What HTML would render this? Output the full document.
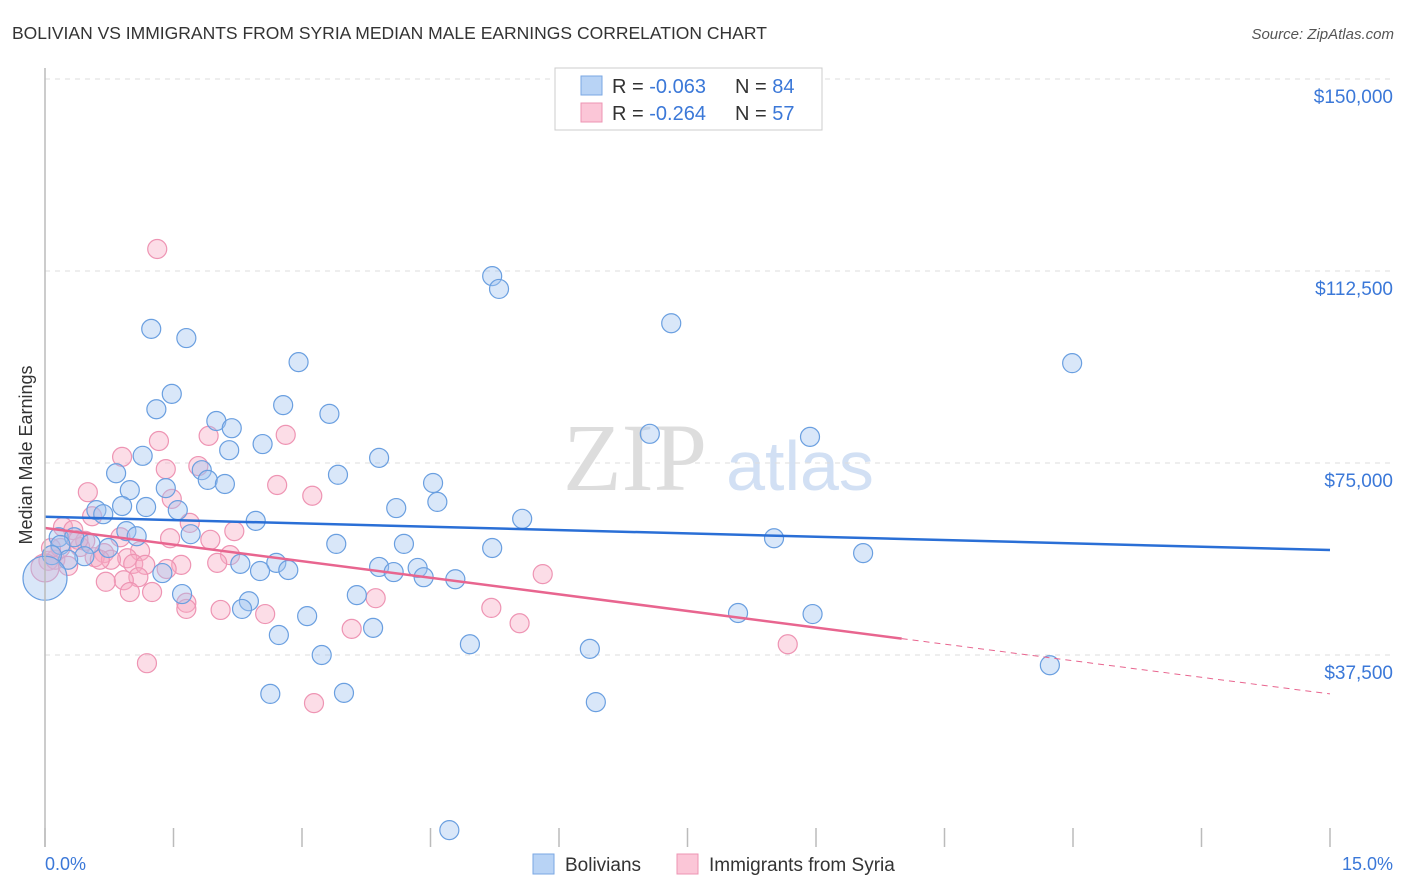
<!DOCTYPE html>
<html><head><meta charset="utf-8"><style>
body{margin:0;background:#fff;font-family:"Liberation Sans",sans-serif;}
svg{display:block}
</style></head><body>
<svg id="chart" width="1406" height="892">
<text x="12" y="39" font-size="17.5" fill="#333">BOLIVIAN VS IMMIGRANTS FROM SYRIA MEDIAN MALE EARNINGS CORRELATION CHART</text>
<text x="1394" y="39" font-size="15" fill="#555" font-style="italic" text-anchor="end">Source: ZipAtlas.com</text>
<text x="32" y="455" font-size="18" fill="#333" text-anchor="middle" transform="rotate(-90 32 455)">Median Male Earnings</text>
<g><text x="635" y="490" font-size="96" fill="#ddd" font-family="Liberation Serif,serif" text-anchor="middle">ZIP</text><text x="800" y="490" font-size="70" fill="#d2e0f4" text-anchor="middle">atlas</text></g>
<g id="grid"></g><g id="pts"></g><g id="trend"></g>
<line x1="45" y1="68" x2="45" y2="847" stroke="#bbb" stroke-width="1.5"/>
<g>
<rect x="555" y="68" width="267" height="62" fill="#fff" stroke="#ccc"/>
<rect x="581" y="76" width="21" height="19" fill="#b8d3f5" stroke="#7aa7e3"/>
<rect x="581" y="103" width="21" height="19" fill="#fbc6d7" stroke="#ee94b3"/>
<text x="612" y="93" font-size="20" fill="#333">R = <tspan fill="#3b78d8">-0.063</tspan><tspan x="735">N = </tspan><tspan fill="#3b78d8">84</tspan></text>
<text x="612" y="120" font-size="20" fill="#333">R = <tspan fill="#3b78d8">-0.264</tspan><tspan x="735">N = </tspan><tspan fill="#3b78d8">57</tspan></text>
</g>
<text x="45" y="870" font-size="18" fill="#3b78d8">0.0%</text>
<text x="1393" y="870" font-size="18" fill="#3b78d8" text-anchor="end">15.0%</text>
<g>
<rect x="533" y="854" width="21" height="20" fill="#b8d3f5" stroke="#7aa7e3"/>
<text x="565" y="871" font-size="19" fill="#333">Bolivians</text>
<rect x="677" y="854" width="21" height="20" fill="#fbc6d7" stroke="#ee94b3"/>
<text x="709" y="871" font-size="19" fill="#333">Immigrants from Syria</text>
</g>
</svg>
<script>
const yTicks=[37500,75000,112500,150000];
const yTickLabels=["$37,500","$75,000","$112,500","$150,000"];
const xTicks=[0,1.5,3,4.5,6,7.5,9,10.5,12,13.5,15];
const blueX=[5.22,5.30,7.31,1.24,1.65,2.96,11.99,1.48,1.30,2.78,3.32,2.00,2.18,7.06,8.93,1.14,2.54,2.15,3.90,0.83,1.83,3.42,1.90,2.10,4.53,0.99,1.41,4.58,4.10,0.90,1.18,0.60,0.68,1.55,5.57,2.46,0.16,0.95,0.34,0.53,1.07,1.70,8.51,0.46,3.40,4.19,5.22,9.55,0.74,2.28,2.70,2.51,2.84,3.90,4.35,4.07,4.42,4.79,1.37,3.64,1.60,2.38,2.30,3.06,8.09,8.96,2.73,3.83,4.96,6.36,3.23,11.73,2.63,3.49,6.43,4.72,0.18,0.27,0.08,0.0];
const blueY=[111.5,109.0,102.3,101.2,99.4,94.7,94.5,88.5,85.5,86.3,84.6,83.2,81.8,80.7,80.1,76.4,78.7,77.5,76.0,73.0,73.6,72.7,71.7,70.9,71.1,69.7,70.1,67.4,66.2,66.6,66.4,65.8,65.0,65.8,64.1,63.7,60.5,61.7,60.5,59.2,60.7,61.1,60.3,56.8,59.2,59.2,58.4,57.4,58.4,55.3,55.5,53.9,54.1,54.7,54.5,53.7,52.7,52.3,53.5,49.2,49.4,48.0,46.5,45.1,45.7,45.5,41.4,42.8,39.6,38.7,37.5,35.5,29.9,30.1,28.3,3.3,59.0,56.1,57.0,52.5];
const blueSize=[];blueX.forEach((v,i)=>blueSize.push(i===blueX.length-1?22:9.5));
const pinkX=[1.31,1.33,1.91,2.81,0.90,1.41,1.79,2.71,0.50,3.12,1.48,0.55,1.69,2.21,0.21,0.33,0.88,1.46,1.93,0.41,1.11,0.69,0.58,2.16,0.96,0.77,2.01,1.03,1.17,1.59,0.04,0.12,0.27,1.09,0.92,0.71,1.25,3.86,0.99,1.65,2.05,1.65,2.57,5.21,3.58,5.54,1.19,3.14,5.81,8.67,0.18,0.64,1.42,0.47,0.07,0.39,0.0];
const pinkY=[116.8,79.3,80.3,80.5,76.2,73.8,74.4,70.7,69.3,68.6,68.0,64.6,63.3,61.7,62.5,61.9,60.5,60.3,60.0,58.6,57.8,57.4,56.6,57.0,56.4,56.1,55.5,55.3,55.1,55.1,55.9,56.1,54.9,52.7,52.1,51.8,49.8,48.6,49.8,47.7,46.3,46.5,45.5,46.7,42.6,43.7,35.9,28.1,53.3,39.6,58.4,56.1,54.3,59.8,58.4,60.0,54.5];
const blueTrend=[64.5,58.0];
const pinkTrend=[62.3,29.9];
const pinkSolidEnd=10.0;
const X=v=>45+v/15*1285;
const Y=k=>847-k*1000/37500*192;
const NS="http://www.w3.org/2000/svg";
function mk(tag,attrs,parent){const e=document.createElementNS(NS,tag);for(const k in attrs)e.setAttribute(k,attrs[k]);parent.appendChild(e);return e;}
const grid=document.getElementById('grid');
yTicks.forEach((t,i)=>{
 const l=mk('line',{x1:45,x2:1393,y1:Y(t/1000),y2:Y(t/1000),stroke:'#ddd','stroke-dasharray':'5,5'},grid);
 
 
 const tx=mk('text',{x:1393,y:Y(t/1000)+24,'font-size':19,fill:'#3b78d8','text-anchor':'end'},grid);
 tx.textContent=yTickLabels[i];
 
 
});
xTicks.forEach(t=>{
 const l=mk('line',{x1:X(t),x2:X(t),y1:828,y2:847,stroke:'#bbb','stroke-width':1.5},grid);
 
 
});
const pts=document.getElementById('pts');
pinkX.forEach((v,i)=>{
 const c=mk('circle',{cx:X(v),cy:Y(pinkY[i]),r:i===pinkX.length-1?14:9.5,fill:'rgba(247,170,196,0.4)',stroke:'#ee94b3','stroke-width':1.2},pts);
 
 
});
blueX.forEach((v,i)=>{
 const c=mk('circle',{cx:X(v),cy:Y(blueY[i]),r:blueSize[i],fill:'rgba(160,196,240,0.4)',stroke:'#6a9fe0','stroke-width':1.2},pts);
 
 
});
const tr=document.getElementById('trend');
const b=mk('line',{x1:X(0),y1:Y(blueTrend[0]),x2:X(15),y2:Y(blueTrend[1]),stroke:'#2a6fd6','stroke-width':2.5},tr);


const pe=pinkTrend[0]+(pinkTrend[1]-pinkTrend[0])*pinkSolidEnd/15;
const p=mk('line',{x1:X(0),y1:Y(pinkTrend[0]),x2:X(pinkSolidEnd),y2:Y(pe),stroke:'#e8658f','stroke-width':2.5},tr);


const pd=mk('line',{x1:X(pinkSolidEnd),y1:Y(pe),x2:X(15),y2:Y(pinkTrend[1]),stroke:'#e8658f','stroke-width':1,'stroke-dasharray':'6,5'},tr);


</script>
</body></html>
